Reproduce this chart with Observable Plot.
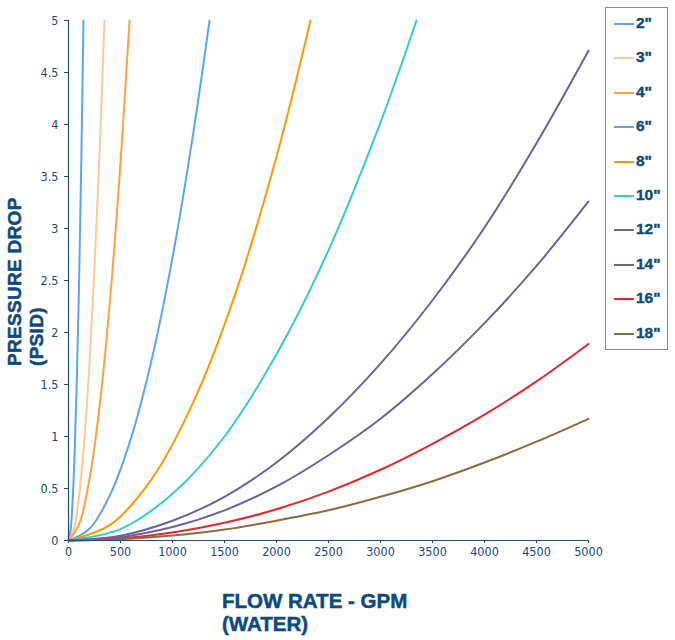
<!DOCTYPE html>
<html>
<head>
<meta charset="utf-8">
<script src="https://cdn.jsdelivr.net/npm/d3@7"></script>
<script src="https://cdn.jsdelivr.net/npm/@observablehq/plot@0.6"></script>
<style>
  body { margin: 0; background: #fff; }
  #wrap { position: relative; width: 675px; height: 640px; overflow: hidden; font-family: "Liberation Sans", Arial, sans-serif; }
  #chart { position: absolute; left: 0; top: 0; }
  .ytitle { position: absolute; transform-origin: 0 0; transform: rotate(-90deg); white-space: nowrap;
            font-weight: bold; font-size: 19px; color: #0e4a7d; letter-spacing: 0.3px; -webkit-text-stroke: 0.5px #0e4a7d; }
  .xtitle { position: absolute; white-space: nowrap; font-weight: bold; font-size: 20.5px; color: #0e4a7d; -webkit-text-stroke: 0.5px #0e4a7d; }
  #legend { position: absolute; left: 605px; top: 7px; width: 63px; height: 343px; border: 1px solid #8c8c8c; box-sizing: border-box; }
  .li { position: absolute; left: 8px; height: 20px; }
  .sw { position: absolute; left: 0; top: 10px; width: 20px; height: 2px; }
  .lt { position: absolute; left: 22px; top: 0; line-height: 20px; white-space: nowrap; font-weight: bold; font-size: 15.5px; color: #0e4a7d; -webkit-text-stroke: 0.4px #0e4a7d; }
</style>
</head>
<body>
<div id="wrap">
  <div id="chart"></div>
  <div class="ytitle" style="left:4px; top:366px;">PRESSURE DROP</div>
  <div class="ytitle" style="left:26px; top:366px;">(PSID)</div>
  <div class="xtitle" style="left:222px; top:589px;">FLOW RATE - GPM</div>
  <div class="xtitle" style="left:222px; top:612px;">(WATER)</div>
  <div id="legend"></div>
</div>
<script>
// Series names and colours
const sizes  = ['2"', '3"', '4"', '6"', '8"', '10"', '12"', '14"', '16"', '18"'];
const colors = ["#5aa5f5", "#ffc896", "#ffa040", "#5aa5f5", "#ff9900", "#33cccc", "#6a639e", "#6a639e", "#e0282e", "#8d6b3a"];

// Flow rate (GPM) and pressure drop (PSID)
const flow2  = [0, 20, 40, 60, 80, 100, 120, 144];
const psi2   = [0, 0.1, 0.39, 0.87, 1.55, 2.4, 3.47, 5];
const flow3  = [0, 50, 100, 150, 200, 250, 300, 346];
const psi3   = [0, 0.1, 0.42, 0.94, 1.67, 2.61, 3.76, 5];
const flow4  = [0, 100, 200, 300, 400, 500, 587];
const psi4   = [0, 0.15, 0.58, 1.3, 2.32, 3.63, 5];
const flow6  = [0, 200, 400, 600, 800, 1000, 1200, 1356];
const psi6   = [0, 0.11, 0.44, 0.98, 1.74, 2.72, 3.92, 5];
const flow8  = [0, 400, 800, 1200, 1600, 2000, 2327];
const psi8   = [0, 0.15, 0.59, 1.33, 2.36, 3.69, 5];
const flow10 = [0, 500, 1000, 1500, 2000, 2500, 3000, 3346];
const psi10  = [0, 0.11, 0.45, 1.0, 1.79, 2.79, 4.02, 5];
const flowL  = [0, 500, 1000, 1500, 2000, 2500, 3000, 3500, 4000, 4500, 5000];
const psi12  = [0, 0.047, 0.19, 0.42, 0.75, 1.18, 1.7, 2.31, 3.01, 3.82, 4.71];
const psi14  = [0, 0.033, 0.13, 0.29, 0.52, 0.82, 1.17, 1.6, 2.09, 2.64, 3.26];
const psi16  = [0, 0.019, 0.076, 0.17, 0.3, 0.47, 0.68, 0.93, 1.21, 1.53, 1.89];
const psi18  = [0, 0.012, 0.047, 0.105, 0.19, 0.29, 0.42, 0.57, 0.75, 0.95, 1.17];

const xTicks = [0, 500, 1000, 1500, 2000, 2500, 3000, 3500, 4000, 4500, 5000];
const yTicks = [0, 0.5, 1, 1.5, 2, 2.5, 3, 3.5, 4, 4.5, 5];

const seriesFlows = [flow2, flow3, flow4, flow6, flow8, flow10, flowL, flowL, flowL, flowL];
const seriesPsi   = [psi2, psi3, psi4, psi6, psi8, psi10, psi12, psi14, psi16, psi18];

const data = [];
sizes.forEach((s, i) => {
  seriesFlows[i].forEach((f, j) => data.push({size: s, flow: f, psi: seriesPsi[i][j]}));
});

const axisColor = "#1f4e79";
const chart = Plot.plot({
  width: 620,
  height: 566,
  marginLeft: 68,
  marginRight: 32,
  marginTop: 20,
  marginBottom: 26,
  style: { fontFamily: "'Liberation Sans Narrow', 'DejaVu Sans Condensed', sans-serif", fontSize: "12.5px", color: "#174a7c", background: "transparent" },
  x: { domain: [0, 5000], ticks: xTicks, tickFormat: d => String(d), label: null, tickSize: 3, tickPadding: 4 },
  y: { domain: [0, 5], ticks: yTicks, tickFormat: d => String(d), label: null, tickSize: 4, tickPadding: 6 },
  color: { domain: sizes, range: colors },
  marks: [
    Plot.line(data, { x: "flow", y: "psi", z: "size", stroke: "size", strokeWidth: 2, curve: "catmull-rom" }),
    Plot.ruleY([0], { stroke: axisColor, strokeWidth: 1.2 }),
    Plot.ruleX([0], { stroke: axisColor, strokeWidth: 1.2 })
  ]
});
document.getElementById("chart").appendChild(chart);

const legend = document.getElementById("legend");
sizes.forEach((s, i) => {
  const item = document.createElement("div");
  item.className = "li";
  item.style.top = Math.round(5 + i * 34.4) + "px";
  item.innerHTML = `<div class="sw" style="background:${colors[i]}"></div><span class="lt">${s}</span>`;
  legend.appendChild(item);
});
</script>
</body>
</html>
